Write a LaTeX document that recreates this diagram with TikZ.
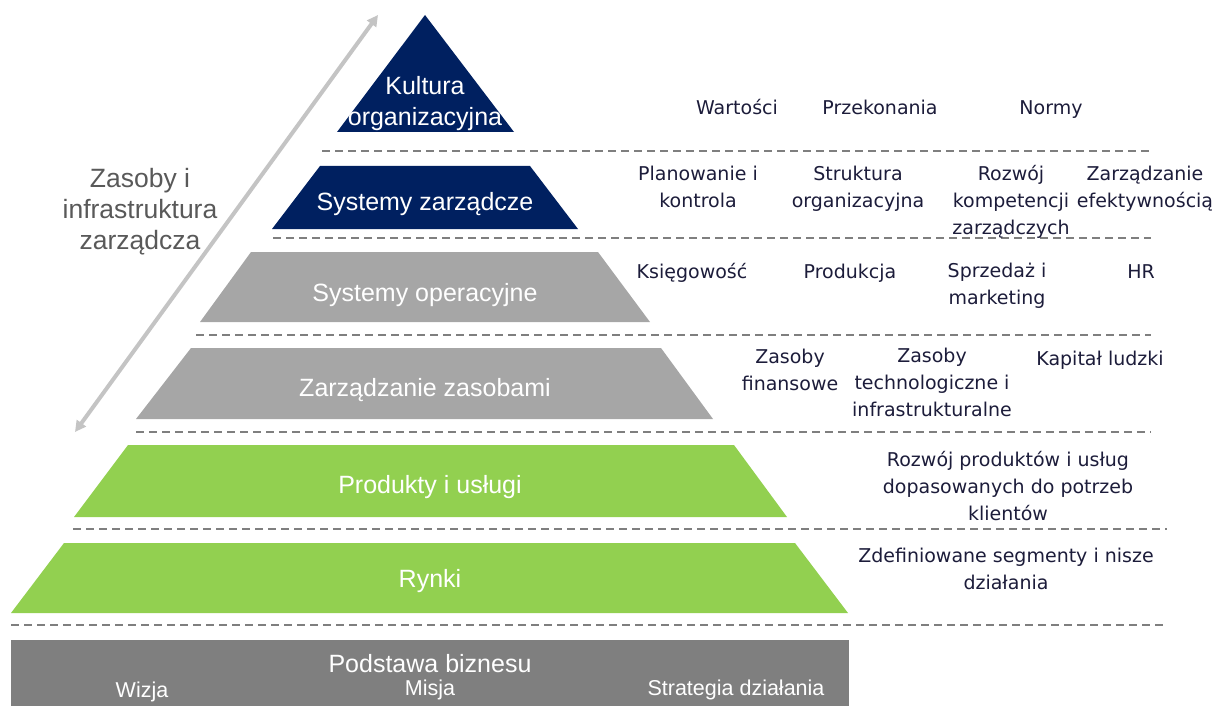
\documentclass[tikz,border=0pt]{standalone}
\usepackage{fontspec}
\setmainfont{Liberation Sans}
\newfontfamily\itemfont{DejaVu Sans}
\usetikzlibrary{arrows.meta}
\definecolor{navy}{HTML}{002060}
\definecolor{midgrey}{HTML}{A6A6A6}
\definecolor{leaf}{HTML}{92D050}
\definecolor{basegrey}{HTML}{7F7F7F}
\definecolor{itemink}{HTML}{1C1C3A}
\definecolor{sidegrey}{HTML}{595959}
\definecolor{arrowgrey}{HTML}{C4C4C4}
\begin{document}
\begin{tikzpicture}[x=1pt,y=-1pt,
  layertext/.style={text=white, align=center, font=\fontsize{25}{31}\selectfont, inner sep=0pt, yshift=-3pt},
  basetext/.style={text=white, font=\fontsize{21.5}{24}\selectfont, inner sep=0pt},
  itemtext/.style={text=itemink, align=center, font=\itemfont\fontsize{19}{27}\selectfont, inner sep=0pt,
    yshift=-3.5pt, execute at begin node=\strut, execute at end node=\strut},
  separator/.style={draw=basegrey, line width=1.5pt, dash pattern=on 8pt off 5pt},
  sidearrow/.style={draw=arrowgrey, line width=4pt, {Triangle[width=11pt,length=11pt]}-{Triangle[width=11pt,length=11pt]}}
]
\useasboundingbox (0,0) rectangle (1213,706);

% pyramid levels
\fill[navy] (425,15) -- (514,132) -- (337,132) -- cycle;
\fill[navy] (320,166) -- (530,166) -- (578,229) -- (272,229) -- cycle;
\fill[midgrey] (251,252) -- (598,252) -- (650,322) -- (200,322) -- cycle;
\fill[midgrey] (191,348) -- (661,348) -- (713,419) -- (136,419) -- cycle;
\fill[leaf] (128,445) -- (734,445) -- (787,517) -- (74,517) -- cycle;
\fill[leaf] (64,543) -- (795,543) -- (848,613) -- (11,613) -- cycle;
\fill[basegrey] (11,640) rectangle (849,706);

% dashed separators between levels
\draw[separator] (322,151) -- (1151,151);
\draw[separator] (273,238) -- (1151,238);
\draw[separator] (196,335) -- (1151,335);
\draw[separator] (136,432) -- (1151,432);
\draw[separator] (73,529) -- (1167,529);
\draw[separator] (11,625) -- (1165,625);

% level names
\node[layertext] (kultura) at (425,101) {Kultura\\organizacyjna};
\node[layertext] (zarzadcze) at (425,201) {Systemy zarządcze};
\node[layertext] (operacyjne) at (425,292) {Systemy operacyjne};
\node[layertext] (zasoby) at (425,387) {Zarządzanie zasobami};
\node[layertext] (produkty) at (430,484) {Produkty i usługi};
\node[layertext] (rynki) at (430,578) {Rynki};
\node[layertext] (podstawa) at (430,661) {Podstawa biznesu};
\node[basetext] (wizja) at (142,692) {Wizja};
\node[basetext] (misja) at (430,690) {Misja};
\node[basetext] (strategia) at (736,690) {Strategia działania};

% side arrow and its label
\coordinate (arrlow) at (75,432);
\coordinate (arrhigh) at (378,15);
\draw[sidearrow] (arrlow) -- (arrhigh);
\node[text=sidegrey, align=center, font=\fontsize{26.5}{31}\selectfont, inner sep=0pt] (infra) at (140,212) {Zasoby i\\infrastruktura\\zarządcza};

% components of each level
\node[itemtext] (wartosci) at (737,106) {Wartości};
\node[itemtext] (przekonania) at (880,106) {Przekonania};
\node[itemtext] (normy) at (1051,106) {Normy};

\node[itemtext] (planowanie) at (698,187) {Planowanie i\\kontrola};
\node[itemtext] (struktura) at (858,187) {Struktura\\organizacyjna};
\node[itemtext] (kompetencje) at (1011,200) {Rozwój\\kompetencji\\zarządczych};
\node[itemtext] (efektywnosc) at (1145,187) {Zarządzanie\\efektywnością};

\node[itemtext] (ksiegowosc) at (692,270) {Księgowość};
\node[itemtext] (produkcja) at (850,270) {Produkcja};
\node[itemtext] (sprzedaz) at (997,284) {Sprzedaż i\\marketing};
\node[itemtext] (hr) at (1141,270) {HR};

\node[itemtext] (finansowe) at (790,370) {Zasoby\\finansowe};
\node[itemtext] (technologiczne) at (932,383) {Zasoby\\technologiczne i\\infrastrukturalne};
\node[itemtext] (kapital) at (1100,357) {Kapitał ludzki};

\node[itemtext] (rozwoj) at (1008,486) {Rozwój produktów i usług\\dopasowanych do potrzeb\\klientów};
\node[itemtext] (segmenty) at (1006,569) {Zdefiniowane segmenty i nisze\\działania};
\end{tikzpicture}
\end{document}
